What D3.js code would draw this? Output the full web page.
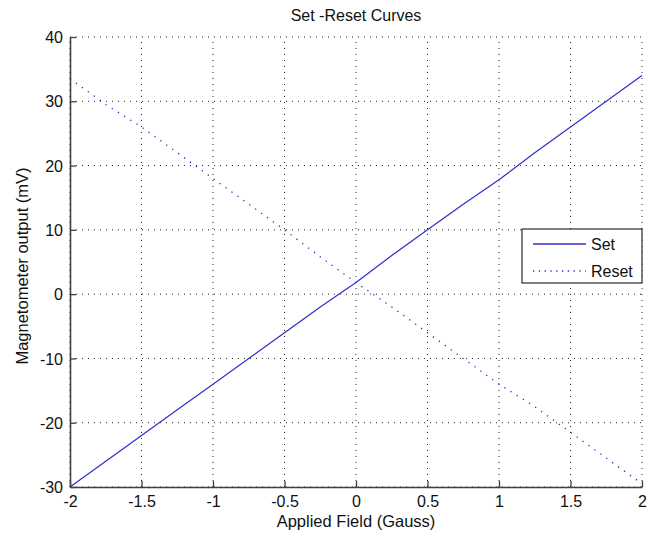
<!DOCTYPE html>
<html>
<head>
<meta charset="utf-8">
<script src="https://cdn.jsdelivr.net/npm/d3@7"></script>
<style>
  body { margin: 0; background: #fff; }
  svg { display: block; font-family: "Liberation Sans", Arial, sans-serif; }
</style>
</head>
<body>
<svg id="chart" width="648" height="539"></svg>
<script>
// Data
const fieldGauss = [-2, -1.75, -1.5, -1.25, -1, -0.75, -0.5, -0.25, 0, 0.25, 0.5, 0.75, 1, 1.25, 1.5, 1.75, 2];
const setOutput = [-30, -26, -22, -18, -14, -10, -6, -2, 1.8, 6, 10, 14, 17.8, 22, 26, 30, 34];
const resetOutput = [33.5, 29.5, 26, 22, 18, 14, 10, 5.8, 1.8, -2, -6, -10, -14, -17.5, -21.5, -25.5, -29.5];
const xTicks = [-2, -1.5, -1, -0.5, 0, 0.5, 1, 1.5, 2];
const yTicks = [-30, -20, -10, 0, 10, 20, 30, 40];
const seriesNames = ["Set", "Reset"];

const svg = d3.select("#chart");
const margin = { left: 70, right: 6, top: 37, bottom: 52 };
const W = 648, H = 539;
const x = d3.scaleLinear().domain([-2, 2]).range([margin.left, W - margin.right]);
const y = d3.scaleLinear().domain([-30, 40]).range([H - margin.bottom, margin.top]);

const lineColor = "#2f2fc4";
const axisColor = "#404040";
const fmt = d => String(d);

// Grid
const grid = svg.append("g");
grid.selectAll(".gx").data(xTicks).join("line")
  .attr("x1", d => x(d)).attr("x2", d => x(d))
  .attr("y1", y(-30)).attr("y2", y(40))
  .attr("stroke", "#222").attr("stroke-width", 1).attr("stroke-dasharray", "1,5");
grid.selectAll(".gy").data(yTicks).join("line")
  .attr("x1", x(-2)).attr("x2", x(2))
  .attr("y1", d => y(d)).attr("y2", d => y(d))
  .attr("stroke", "#222").attr("stroke-width", 1).attr("stroke-dasharray", "1,5");

// Lines
const lineGen = vals => d3.line().x((d, i) => x(fieldGauss[i])).y(d => y(d))(vals);
svg.append("path").attr("d", lineGen(setOutput))
  .attr("fill", "none").attr("stroke", lineColor).attr("stroke-width", 1.2);
svg.append("path").attr("d", lineGen(resetOutput))
  .attr("fill", "none").attr("stroke", lineColor).attr("stroke-width", 1.3)
  .attr("stroke-dasharray", "1.3,6");

// Axes
const xAxis = d3.axisBottom(x).tickValues(xTicks).tickFormat(fmt).tickSizeInner(-6).tickSizeOuter(0).tickPadding(13);
const yAxis = d3.axisLeft(y).tickValues(yTicks).tickFormat(fmt).tickSizeInner(-6).tickSizeOuter(0).tickPadding(13);
const gx = svg.append("g").attr("transform", `translate(0,${y(-30)})`).call(xAxis);
const gy = svg.append("g").attr("transform", `translate(${x(-2)},0)`).call(yAxis);
[gx, gy].forEach(g => {
  g.select(".domain").attr("stroke", axisColor).attr("stroke-width", 1.6);
  g.selectAll(".tick line").attr("stroke", axisColor).attr("stroke-width", 1.3);
  g.selectAll(".tick text").attr("fill", "#111").style("font-size", "16px")
    .style("font-family", "'Liberation Sans', Arial, sans-serif");
});
gx.selectAll(".tick text").attr("dy", "0.71em").attr("y", 9);
gy.selectAll(".tick text").attr("x", -7).attr("dy", "0.35em");

// Title and labels
svg.append("text").attr("x", (x(-2) + x(2)) / 2).attr("y", 21)
  .attr("text-anchor", "middle").style("font-size", "16px").attr("fill", "#111")
  .text("Set -Reset Curves");
svg.append("text").attr("x", (x(-2) + x(2)) / 2).attr("y", 527)
  .attr("text-anchor", "middle").style("font-size", "16.5px").attr("fill", "#111")
  .text("Applied Field (Gauss)");
svg.append("text").attr("transform", `translate(28,${(y(-30) + y(40)) / 2 + 4}) rotate(-90)`)
  .attr("text-anchor", "middle").style("font-size", "16.5px").attr("fill", "#111")
  .text("Magnetometer output (mV)");

// Legend
const lg = svg.append("g");
lg.append("rect").attr("x", 522).attr("y", 229).attr("width", 120).attr("height", 54)
  .attr("fill", "#fff").attr("stroke", "#000").attr("stroke-width", 1);
const legendStyles = [{ dash: null, w: 1.3 }, { dash: "1.3,4.5", w: 1.3 }];
seriesNames.forEach((name, i) => {
  const ly = 244 + i * 27;
  lg.append("line").attr("x1", 533).attr("x2", 586).attr("y1", ly).attr("y2", ly)
    .attr("stroke", lineColor).attr("stroke-width", legendStyles[i].w)
    .attr("stroke-dasharray", legendStyles[i].dash);
  lg.append("text").attr("x", 591).attr("y", ly + 6).style("font-size", "16px")
    .attr("fill", "#111").text(name);
});
</script>
</body>
</html>
